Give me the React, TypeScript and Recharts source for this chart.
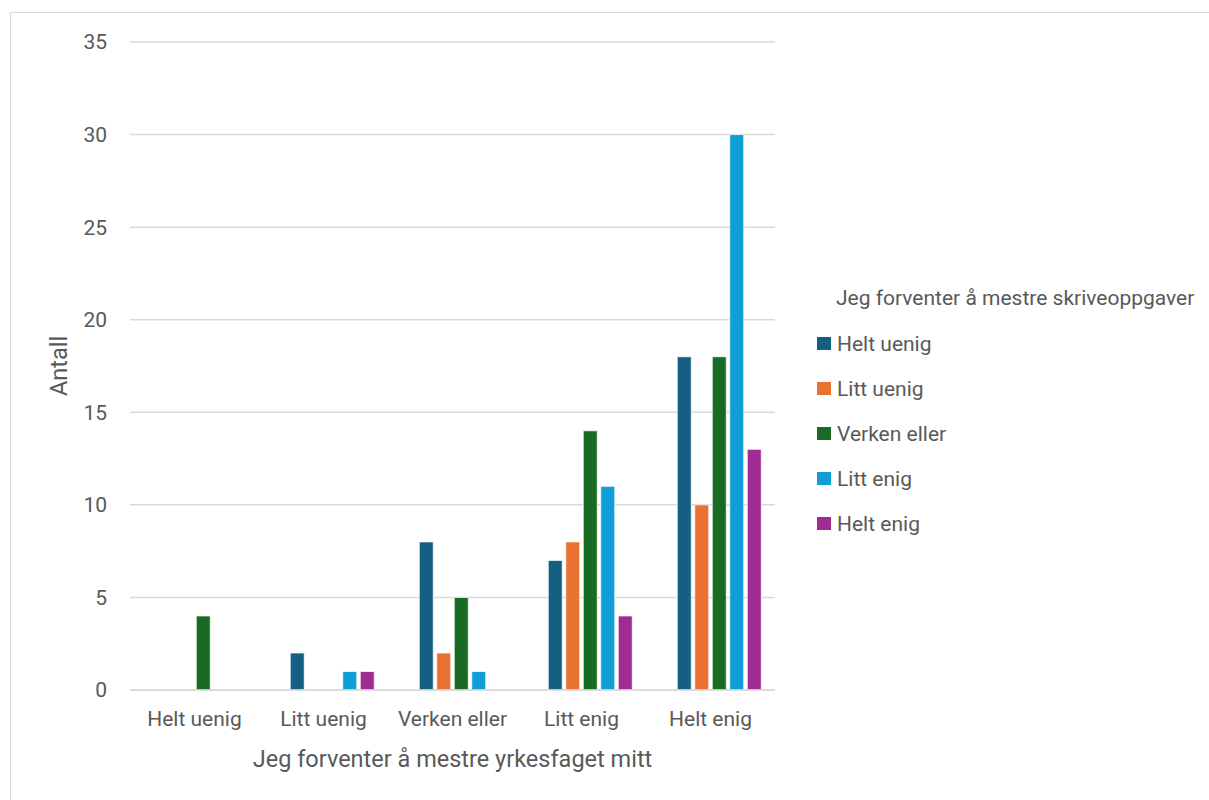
import { BarChart, Bar, XAxis, YAxis, CartesianGrid, Legend } from "recharts";

const categories = ["Helt uenig", "Litt uenig", "Verken eller", "Litt enig", "Helt enig"];
const seriesNames = ["Helt uenig", "Litt uenig", "Verken eller", "Litt enig", "Helt enig"];
const seriesColors = ["#156082", "#E97132", "#196B24", "#0F9ED5", "#A02B93"];

// one list per series (skriveoppgaver), one value per category (yrkesfaget)
const heltUenig = [0, 2, 8, 7, 18];
const littUenig = [0, 0, 2, 8, 10];
const verkenEller = [4, 0, 5, 14, 18];
const littEnig = [0, 1, 1, 11, 30];
const heltEnig = [0, 1, 0, 4, 13];

const yTicks = [0, 5, 10, 15, 20, 25, 30, 35];

const seriesValues = [heltUenig, littUenig, verkenEller, littEnig, heltEnig];

const data = categories.map((name, i) => {
  const row: Record<string, string | number> = { name };
  seriesNames.forEach((s, j) => {
    row[s] = seriesValues[j][i];
  });
  return row;
});

const FONT = "Roboto, 'Liberation Sans', sans-serif";
const FS = 21;
const TITLE_FS = 23.5;
const TEXT = "#595959";
const GRID = "#d9d9d9";

function LegendBox({ payload }: any) {
  // keep series order instead of recharts' alphabetical sort
  const items = (payload || [])
    .filter((p: any) => p.type !== "none")
    .sort((a: any, b: any) => seriesNames.indexOf(a.value) - seriesNames.indexOf(b.value));
  return (
    <div style={{ fontFamily: FONT, fontSize: FS, color: TEXT }}>
      <div style={{ height: 45, lineHeight: "45px", paddingLeft: 19, whiteSpace: "nowrap" }}>
        Jeg forventer å mestre skriveoppgaver
      </div>
      {items.map((p: any) => (
        <div key={p.value} style={{ height: 45, display: "flex", alignItems: "center" }}>
          <span style={{ width: 14, height: 13, background: p.color, display: "inline-block", marginRight: 6 }} />
          <span>{p.value}</span>
        </div>
      ))}
    </div>
  );
}

function YTitle({ viewBox }: any) {
  const x = viewBox.x - 1;
  const y = viewBox.y + viewBox.height / 2;
  return (
    <text x={x} y={y} transform={`rotate(-90 ${x} ${y})`} textAnchor="middle" dominantBaseline="central"
      fill={TEXT} fontSize={TITLE_FS} fontFamily={FONT}>
      Antall
    </text>
  );
}

export default function App() {
  return (
    <div style={{ position: "relative", width: 1209, height: 800, overflow: "hidden", background: "#fff" }}>
      <style>{"body{margin:0}"}</style>
      <div style={{ position: "absolute", left: 10, top: 12, width: 1240, height: 820, border: `1px solid ${GRID}` }} />
      <BarChart
        width={1209}
        height={800}
        data={data}
        margin={{ top: 42, right: 40, left: 60, bottom: 50 }}
        barCategoryGap={13.75}
        barGap={3.5}
        style={{ position: "absolute", left: 0, top: 0 }}
      >
        <CartesianGrid vertical={false} stroke={GRID} strokeWidth={1.5} />
        <XAxis
          dataKey="name"
          height={60}
          axisLine={{ stroke: GRID, strokeWidth: 1.5 }}
          tickLine={false}
          tickMargin={15}
          tick={{ fill: TEXT, fontSize: FS, fontFamily: FONT }}
          label={{
            value: "Jeg forventer å mestre yrkesfaget mitt",
            position: "bottom",
            offset: 0,
            fill: TEXT,
            fontSize: TITLE_FS,
            fontFamily: FONT,
          }}
        />
        <YAxis
          width={70}
          domain={[0, 35]}
          ticks={yTicks}
          interval={0}
          axisLine={false}
          tickLine={false}
          tickMargin={17}
          tick={{ fill: TEXT, fontSize: FS, fontFamily: FONT }}
          label={<YTitle />}
        />
        <Legend
          layout="vertical"
          align="right"
          verticalAlign="top"
          width={394}
          content={<LegendBox />}
          wrapperStyle={{ left: 817, top: 276 }}
        />
        {/* empty leading slot in each group */}
        <Bar dataKey="blank" legendType="none" isAnimationActive={false} />
        {seriesNames.map((s, i) => (
          <Bar
            key={s}
            dataKey={s}
            fill={seriesColors[i]}
            stroke="#ffffff"
            strokeWidth={0.75}
            isAnimationActive={false}
          />
        ))}
      </BarChart>
    </div>
  );
}
